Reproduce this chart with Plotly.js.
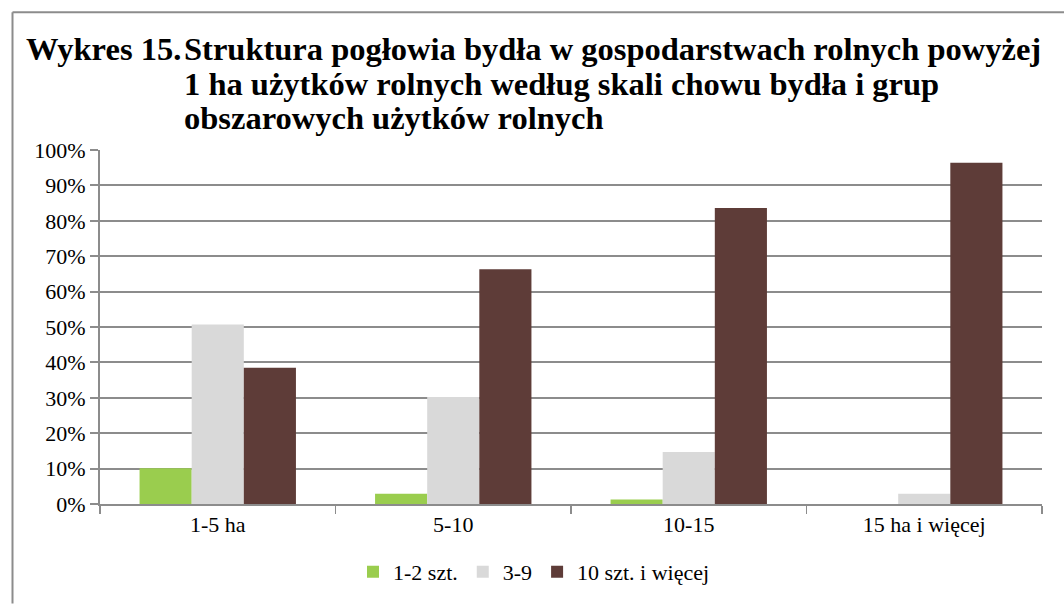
<!DOCTYPE html>
<html>
<head>
<meta charset="utf-8">
<script src="https://cdn.plot.ly/plotly-3.0.1.min.js"></script>
<style>html,body{margin:0;padding:0;background:#fff;}#chart{width:1064px;height:605px;}</style>
</head>
<body>
<div id="chart"></div>
<script>
const categories = ['1-5 ha', '5-10', '10-15', '15 ha i więcej'];
const seriesNames = ['1-2 szt.', '3-9', '10 szt. i więcej'];
const small = [10.1, 2.9, 1.3, 0];
const medium = [50.7, 30.2, 14.7, 2.9];
const large = [38.5, 66.3, 83.6, 96.4];
const yTicks = [0, 10, 20, 30, 40, 50, 60, 70, 80, 90, 100];
const colors = ['#9acd4e', '#d9d9d9', '#5e3c38'];
const titleLabel = 'Wykres 15.';
const titleLines = [
  'Struktura pogłowia bydła w gospodarstwach rolnych powyżej',
  '1 ha użytków rolnych według skali chowu bydła i grup',
  'obszarowych użytków rolnych'
];

const serif = '"Liberation Serif", "Times New Roman", Times, serif';
const seriesValues = [small, medium, large];
const data = seriesValues.map((vals, i) => ({
  type: 'bar',
  name: seriesNames[i],
  x: categories,
  y: vals,
  marker: {color: colors[i]},
  hoverinfo: 'skip'
}));

const L = 100, R = 1042, T = 149.5, B = 509;
const pw = R - L, ph = B - T;
const px = v => (v - L) / pw;
const py = v => (B - v) / ph;

const titleFont = {family: serif, size: 32.5, color: '#000'};
const lineY = [47, 82, 117];
const annotations = [
  {xref: 'paper', yref: 'paper', x: px(24), y: py(lineY[0]), xanchor: 'left', yanchor: 'middle', showarrow: false,
   text: '<b>' + titleLabel + '</b>', font: titleFont}
].concat(titleLines.map((t, i) => ({
  xref: 'paper', yref: 'paper', x: px(182), y: py(lineY[i]), xanchor: 'left', yanchor: 'middle', showarrow: false,
  text: '<b>' + t + '</b>', font: titleFont
})));

const layout = {
  width: 1064, height: 605,
  margin: {l: L, r: 1064 - R, t: T, b: 605 - B, pad: 0},
  paper_bgcolor: '#fff', plot_bgcolor: '#fff',
  barmode: 'group',
  bargap: 0.336,
  bargroupgap: 0,
  showlegend: true,
  font: {family: serif, color: '#000', size: 22},
  xaxis: {
    type: 'category',
    showline: true, linecolor: '#8c8c8c', linewidth: 2,
    ticks: 'outside', tickson: 'boundaries', ticklen: 8, tickcolor: '#8c8c8c', tickwidth: 1.5,
    showgrid: false, zeroline: false,
    tickfont: {family: serif, size: 22, color: '#000'},
    fixedrange: true
  },
  yaxis: {
    range: [0, 100],
    tickvals: yTicks,
    ticktext: yTicks.map(v => v + '%'),
    showline: true, linecolor: '#8c8c8c', linewidth: 2,
    ticks: 'outside', ticklen: 8, tickcolor: '#8c8c8c', tickwidth: 2,
    showgrid: true, gridcolor: '#8c8c8c', gridwidth: 2,
    zeroline: false,
    tickfont: {family: serif, size: 22, color: '#000'},
    fixedrange: true
  },
  legend: {
    orientation: 'h',
    x: px(353), xanchor: 'left',
    y: py(578), yanchor: 'middle',
    font: {family: serif, size: 22, color: '#000'},
    itemwidth: 30,
    tracegroupgap: 0,
    bgcolor: 'rgba(0,0,0,0)'
  },
  shapes: [
    {type: 'line', xref: 'paper', yref: 'paper', x0: px(12.5), x1: px(12.5), y0: py(9.5), y1: py(610), line: {color: '#8c8c8c', width: 2}},
    {type: 'line', xref: 'paper', yref: 'paper', x0: px(12.5), x1: px(1070), y0: py(9.5), y1: py(9.5), line: {color: '#8c8c8c', width: 2}}
  ],
  annotations: annotations
};

Plotly.newPlot('chart', data, layout, {displayModeBar: false, staticPlot: true});
</script>
</body>
</html>
